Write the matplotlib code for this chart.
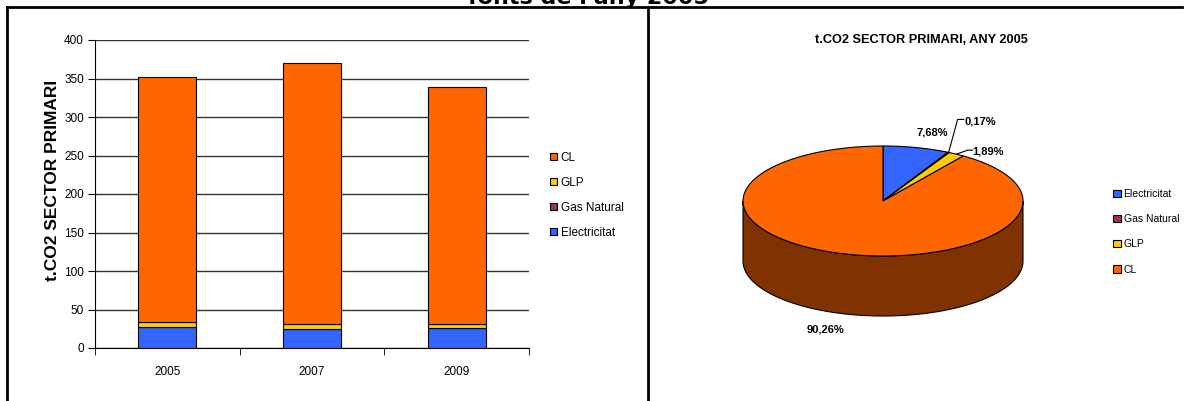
import numpy as np
import matplotlib.pyplot as plt
from matplotlib.lines import Line2D
from matplotlib.patches import Patch, Polygon

# dades
anys = ["2005", "2007", "2009"]
electricitat = [27.0, 24.3, 25.5]
gas_natural = [0.6, 0.5, 0.5]
glp = [6.6, 6.4, 5.0]
cl = [317.8, 338.3, 308.0]

fonts_pastis = ["Electricitat", "Gas Natural", "GLP", "CL"]
pct_pastis = [7.68, 0.17, 1.89, 90.26]

colors = {"Electricitat": "#3366FF", "Gas Natural": "#993366",
          "GLP": "#FFCC00", "CL": "#FF6600"}

W, H = 1186, 401
plt.rcParams['font.family'] = ["Liberation Sans", "DejaVu Sans"]

fig = plt.figure(figsize=(W / 100, H / 100), dpi=100)

def px_rect(x0, y0, x1, y1):
    return [x0 / W, 1 - y1 / H, (x1 - x0) / W, (y1 - y0) / H]

#%% marc de la taula
fig.add_artist(Line2D([7 / W, 1182 / W], [1 - 7 / H, 1 - 7 / H], color="black", lw=2))
fig.add_artist(Line2D([7 / W, 7 / W], [0, 1 - 7 / H], color="black", lw=2))
fig.add_artist(Line2D([648 / W, 648 / W], [0, 1 - 7 / H], color="black", lw=2))
fig.text(588 / W, 1 - 3.5 / H, "fonts de l'any 2005", ha="center", va="baseline",
         fontsize=16, fontweight="bold", family="DejaVu Sans")

#%% barres apilades
ax = fig.add_axes(px_rect(95, 40, 529, 348))
x = np.arange(len(anys))
series = [("Electricitat", electricitat), ("Gas Natural", gas_natural),
          ("GLP", glp), ("CL", cl)]
base = np.zeros(len(anys))
for nom, vals in series:
    ax.bar(x, vals, 0.4, bottom=base, color=colors[nom], edgecolor="black",
           linewidth=0.8, zorder=3, label=nom)
    base += np.array(vals)

ax.set_xlim(-0.5, 2.5)
ax.set_ylim(0, 400)
ax.set_yticks(range(0, 401, 50))
ax.set_xticks(x)
ax.set_xticklabels(anys)
ax.set_xticks([-0.5, 0.5, 1.5, 2.5], minor=True)
ax.tick_params(axis="x", which="major", length=0, pad=13, labelsize=8.5)
ax.tick_params(axis="x", which="minor", length=5, direction="out")
ax.tick_params(axis="y", length=5, direction="out", labelsize=8.5, pad=3)
ax.grid(axis="y", color="#333333", lw=1, zorder=0)
for s in ["top", "right"]:
    ax.spines[s].set_visible(False)
ax.set_ylabel("t.CO2 SECTOR PRIMARI", fontsize=12.5, fontweight="bold")
ax.yaxis.set_label_coords(-0.081, 0.545)

handles = [Patch(facecolor=colors[n], edgecolor="black", lw=0.8) for n in ["CL", "GLP", "Gas Natural", "Electricitat"]]
fig.legend(handles, ["CL", "GLP", "Gas Natural", "Electricitat"],
           loc="upper left", bbox_to_anchor=(544 / W, 1 - 146 / H),
           frameon=False, fontsize=8.5, handlelength=0.6, handleheight=0.6,
           handletextpad=0.3, labelspacing=1.1, borderpad=0)

#%% pastis 3D
ax2 = fig.add_axes(px_rect(733, 110, 1033, 340))
ax2.set_xlim(-150, 150)
ax2.set_ylim(-139, 91)
ax2.axis("off")

rx, ry, prof = 140, 55, 60

def arc(t1, t2, n=200):
    t = np.radians(np.linspace(t1, t2, n))
    return rx * np.cos(t), ry * np.sin(t)

# angles (sentit horari des de les 12)
cum = np.concatenate([[0], np.cumsum(pct_pastis)]) / np.sum(pct_pastis)
angles = [(90 - cum[i + 1] * 360, 90 - cum[i] * 360) for i in range(len(pct_pastis))]

def fosc(c):
    r, g, b = plt.matplotlib.colors.to_rgb(c)
    return (r * 0.5, g * 0.5, b * 0.5)

# parets laterals (meitat frontal)
for nom, (a, b) in zip(fonts_pastis, angles):
    for k in (-360, 0, 360):
        lo, hi = max(a, -180 + k), min(b, 0 + k)
        if hi > lo:
            xs, ys = arc(lo, hi)
            pts = np.column_stack([np.concatenate([xs, xs[::-1]]),
                                   np.concatenate([ys, ys[::-1] - prof])])
            ax2.add_patch(Polygon(pts, closed=True, facecolor=fosc(colors[nom]),
                                  edgecolor="black", lw=0.8, zorder=2))

# cara superior
for nom, (a, b) in zip(fonts_pastis, angles):
    xs, ys = arc(a, b)
    pts = np.column_stack([np.concatenate([[0], xs]), np.concatenate([[0], ys])])
    ax2.add_patch(Polygon(pts, closed=True, facecolor=colors[nom],
                          edgecolor="black", lw=0.8, zorder=3))

def punt(nom):
    a, b = angles[fonts_pastis.index(nom)]
    t = np.radians((a + b) / 2)
    return rx * np.cos(t), ry * np.sin(t)

etiq = {n: f"{p:.2f}%".replace(".", ",") for n, p in zip(fonts_pastis, pct_pastis)}
kw = dict(fontsize=8, fontweight="bold", zorder=5, annotation_clip=False)

px_, py_ = punt("Electricitat")
ax2.annotate(etiq["Electricitat"], (px_, py_), xytext=(px_ + 16, py_ + 15),
             ha="center", va="center", **kw)

px_, py_ = punt("Gas Natural")
ax2.plot([px_, px_ + 9, px_ + 15], [py_, py_ + 33, py_ + 33], color="black", lw=0.8, zorder=5)
ax2.annotate(etiq["Gas Natural"], (px_, py_), xytext=(px_ + 16, py_ + 31),
             ha="left", va="center", **kw)

px_, py_ = punt("GLP")
ax2.plot([px_, px_ + 11, px_ + 16], [py_, py_ + 4, py_ + 4], color="black", lw=0.8, zorder=5)
ax2.annotate(etiq["GLP"], (px_, py_), xytext=(px_ + 16, py_ + 3),
             ha="left", va="center", **kw)

px_, py_ = punt("CL")
ax2.annotate(etiq["CL"], (px_, py_), xytext=(px_ - 15, py_ - prof - 16),
             ha="center", va="center", **kw)

fig.text(921 / W, 1 - 40 / H, "t.CO2 SECTOR PRIMARI, ANY 2005", ha="center",
         va="center", fontsize=9.2, fontweight="bold")

handles2 = [Patch(facecolor=colors[n], edgecolor="black", lw=0.8) for n in fonts_pastis]
fig.legend(handles2, fonts_pastis, loc="upper left",
           bbox_to_anchor=(1108 / W, 1 - 184 / H), frameon=False, fontsize=7.5,
           handlelength=0.7, handleheight=0.7, handletextpad=0.3,
           labelspacing=1.45, borderpad=0)

fig.savefig("out.png", dpi=100)
